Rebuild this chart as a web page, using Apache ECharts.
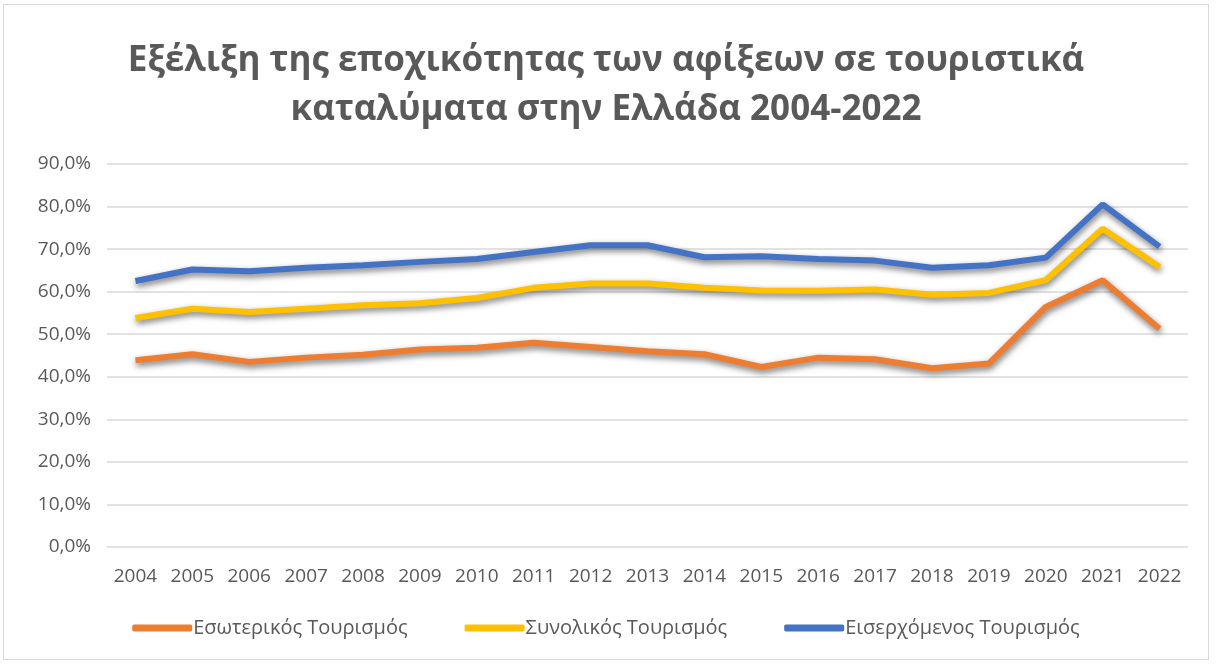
<!DOCTYPE html>
<html>
<head>
<meta charset="utf-8">
<script src="https://cdn.jsdelivr.net/npm/echarts@6/dist/echarts.min.js"></script>
<style>
    html, body { margin: 0; padding: 0; background: #fff; }
    #chart { position: absolute; left: 3px; top: 4px; width: 1206px; height: 656px; border: 1px solid #d9d9d9; box-sizing: border-box; }
</style>
</head>
<body>
<div id="chart"></div>
<script>
    // data (%)
    var years = ['2004', '2005', '2006', '2007', '2008', '2009', '2010', '2011', '2012', '2013',
        '2014', '2015', '2016', '2017', '2018', '2019', '2020', '2021', '2022']
    var domestic = [43.9, 45.3, 43.5, 44.5, 45.2, 46.4, 46.8, 48.0, 47.0, 46.0,
        45.3, 42.3, 44.5, 44.1, 42.0, 43.1, 56.4, 62.7, 51.3]
    var total = [53.8, 56.0, 55.2, 56.0, 56.8, 57.3, 58.5, 60.9, 61.9, 61.9,
        60.9, 60.3, 60.2, 60.5, 59.3, 59.7, 62.7, 74.8, 65.8]
    var inbound = [62.5, 65.2, 64.8, 65.6, 66.2, 67.0, 67.7, 69.3, 70.9, 70.9,
        68.1, 68.3, 67.7, 67.3, 65.6, 66.2, 68.0, 80.5, 70.6]
    var seriesNames = ['Εσωτερικός Τουρισμός', 'Συνολικός Τουρισμός', 'Εισερχόμενος Τουρισμός']

    var font = '"Open Sans", sans-serif'
    var chart = echarts.init(document.getElementById('chart'))

    function lineSeries(name, color, data) {
        return {
            name: name,
            type: 'line',
            data: data,
            symbol: 'none',
            color: color,
            lineStyle: {
                width: 6,
                color: color,
                shadowColor: 'rgba(0,0,0,0.55)',
                shadowBlur: 6,
                shadowOffsetY: 3,
                shadowOffsetX: 1
            }
        }
    }

    chart.setOption({
        title: {
            text: 'Εξέλιξη της εποχικότητας των αφίξεων σε τουριστικά\nκαταλύματα στην Ελλάδα 2004-2022',
            left: 'center',
            top: 27,
            textStyle: {
                fontFamily: font,
                fontWeight: 'bold',
                fontSize: 35,
                lineHeight: 49,
                color: '#595959'
            }
        },
        legend: {
            bottom: 16,
            left: 'center',
            itemWidth: 60,
            itemHeight: 7,
            itemGap: 57,
            icon: 'roundRect',
            data: seriesNames,
            textStyle: {
                fontFamily: font,
                fontSize: 20,
                color: '#595959',
                padding: [0, 0, 0, -4]
            }
        },
        grid: {
            left: 103,
            right: 20,
            top: 159,
            bottom: 112
        },
        xAxis: {
            type: 'category',
            data: years,
            boundaryGap: true,
            axisLine: { show: false },
            axisTick: { show: false },
            axisLabel: {
                interval: 0,
                fontFamily: font,
                fontSize: 19,
                color: '#595959',
                margin: 20
            }
        },
        yAxis: {
            type: 'value',
            min: 0,
            max: 90,
            interval: 10,
            axisLine: { show: false },
            axisTick: { show: false },
            splitLine: { lineStyle: { color: '#d9d9d9', width: 1.5 } },
            axisLabel: {
                fontFamily: font,
                fontSize: 19,
                color: '#595959',
                margin: 16,
                formatter: function (v) { return v.toFixed(1).replace('.', ',') + '%' }
            }
        },
        series: [
            lineSeries(seriesNames[0], '#ED7D31', domestic),
            lineSeries(seriesNames[1], '#FFC000', total),
            lineSeries(seriesNames[2], '#4472C4', inbound)
        ]
    })
</script>
</body>
</html>
